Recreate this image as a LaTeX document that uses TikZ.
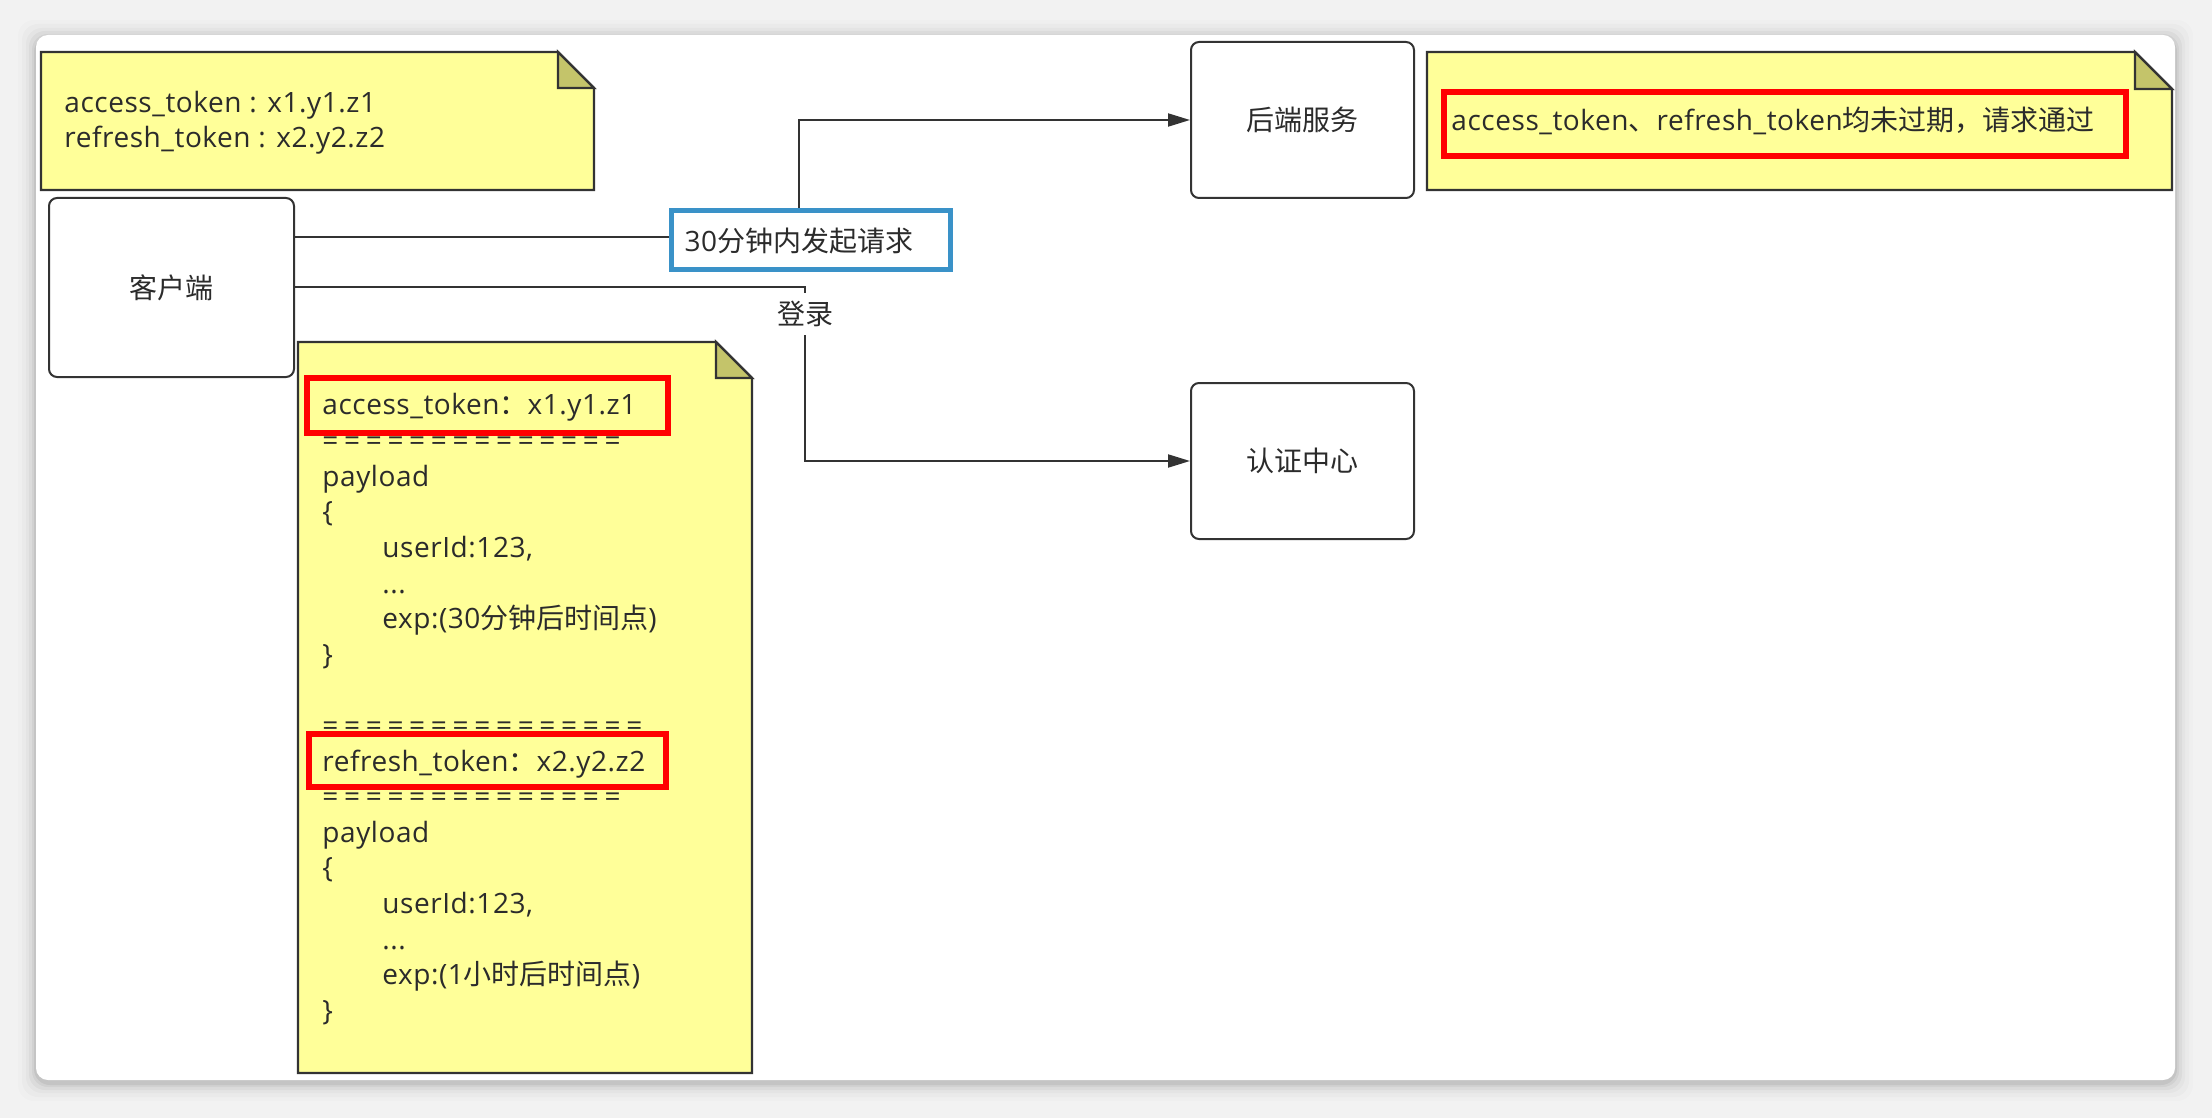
\documentclass[tikz,border=0pt]{standalone}
\usepackage{fontspec}
\setmainfont{Open Sans}[LetterSpace=2]
\newfontfamily\cjk{Noto Sans CJK SC}
\usetikzlibrary{arrows.meta}
\definecolor{notefill}{HTML}{FFFF99}
\definecolor{foldfill}{HTML}{C4C46A}
\definecolor{edgec}{HTML}{333333}
\definecolor{txtc}{HTML}{2B2B2B}
\definecolor{hlred}{HTML}{FF0000}
\definecolor{hlblue}{HTML}{3A92C8}
\definecolor{bgc}{HTML}{F2F2F2}
\newcommand\mynote[5]{%
  \filldraw[notestyle] (#1,#2) -- ({#3-#5},#2) -- (#3,{#2+#5}) -- (#3,#4) -- (#1,#4) -- cycle;
  \filldraw[foldstyle] ({#3-#5},#2) -- ({#3-#5},{#2+#5}) -- (#3,{#2+#5}) -- cycle;}
\newcommand\eqrow[1]{\foreach \k in {1,...,#1}{\makebox[10.85pt][l]{=}}}
\tikzset{
  notestyle/.style={fill=notefill, draw=edgec, line width=1.2pt, line join=miter},
  foldstyle/.style={fill=foldfill, draw=edgec, line width=1.2pt, line join=miter},
  boxstyle/.style={draw=edgec, fill=white, line width=1pt, rounded corners=4pt,
    minimum width=111.5pt, minimum height=78pt, font=\fontsize{14pt}{17pt}\selectfont\cjk, text=txtc},
  conn/.style={draw=edgec, line width=1pt, -{Triangle[length=11pt,width=6.5pt]}},
  txt/.style={inner sep=0pt, anchor=base west, text=txtc, font=\fontsize{14pt}{17pt}\selectfont},
  hlbox/.style={draw=hlred, line width=2.7pt},
}
\begin{document}
\begin{tikzpicture}[x=0.5pt,y=-0.5pt]
\useasboundingbox (0,0) rectangle (2212,1118);
\fill[bgc] (0,0) rectangle (2212,1118);
% soft shadow around the card
\foreach \d/\o in {18/0.012,14/0.018,10/0.025,7/0.035,4/0.045,2/0.06}{
  \fill[black, opacity=\o, rounded corners=8pt] ({36-\d},{35-\d+3}) rectangle ({2175+\d},{1080+\d+3});
}
\fill[white, rounded corners=6pt] (36,35) rectangle (2175,1080);

% notes
\mynote{41}{52}{594}{190}{36}
\mynote{298}{342}{752}{1073}{36}
\mynote{1427}{52}{2172}{190}{37}

% note 1 text
\node[txt] (n1a) at (64,113) {access\_token : x1.y1.z1};
\node[txt] (n1b) at (64,148) {refresh\_token : x2.y2.z2};

% note 3
\draw[hlbox] (1444,92) rectangle (2126,156);
\node[txt] (n3) at (1451,131) {access\_token{\cjk 、}refresh\_token{\cjk 均未过期，请求通过}};

% bottom note
\draw[hlbox] (307,378) rectangle (668,433);
\draw[hlbox] (309,734) rectangle (666,787);
\node[txt] (b1)  at (322,415.0) {access\_token{\cjk ：}x1.y1.z1};
\node[txt] (b2)  at (322,450.6) {\eqrow{14}};
\node[txt] (b3)  at (322,486.2) {payload};
\node[txt] (b4)  at (322,521.8) {\{};
\node[txt] (b5)  at (382,557.4) {userId:123,};
\node[txt] (b6)  at (382,593.0) {...};
\node[txt] (b7)  at (382,628.6) {exp:(30{\cjk 分钟后时间点})};
\node[txt] (b8)  at (322,664.2) {\}};
\node[txt] (b10) at (322,735.4) {\eqrow{15}};
\node[txt] (b11) at (322,771.0) {refresh\_token{\cjk ：}x2.y2.z2};
\node[txt] (b12) at (322,806.6) {\eqrow{14}};
\node[txt] (b13) at (322,842.2) {payload};
\node[txt] (b14) at (322,877.8) {\{};
\node[txt] (b15) at (382,913.4) {userId:123,};
\node[txt] (b16) at (382,949.0) {...};
\node[txt] (b17) at (382,984.6) {exp:(1{\cjk 小时后时间点})};
\node[txt] (b18) at (322,1020.2) {\}};

% boxes
\node[boxstyle, minimum width=122.5pt, minimum height=89.5pt] (client) at (171.5,287.5) {客户端};
\node[boxstyle] (backend) at (1302.5,120) {后端服务};
\node[boxstyle] (auth) at (1302.5,461) {认证中心};

% connectors
\coordinate (c1a) at (799,237);
\coordinate (c1b) at (799,120);
\coordinate (c2a) at (805,287.5);
\coordinate (c2b) at (805,461);
\draw[conn] ([yshift=25.25pt]client.east) -- (c1a) -- (c1b) -- (backend.west);
\draw[conn] (client.east) -- (c2a) -- (c2b) -- (auth.west);

% labels
\node[draw=hlblue, line width=2.5pt, fill=white, anchor=west, inner xsep=6.5pt, inner ysep=0pt,
  text width=126.5pt, align=left, minimum height=29.5pt, text=txtc,
  font=\fontsize{14pt}{17pt}\selectfont] (reqlbl) at (669,240.5) {30{\cjk 分钟内发起请求}};
\node[fill=white, inner xsep=2pt, inner ysep=4pt, text=txtc, font=\fontsize{14pt}{17pt}\selectfont\cjk]
  (loginlbl) at (805,314) {登录};
\end{tikzpicture}
\end{document}
